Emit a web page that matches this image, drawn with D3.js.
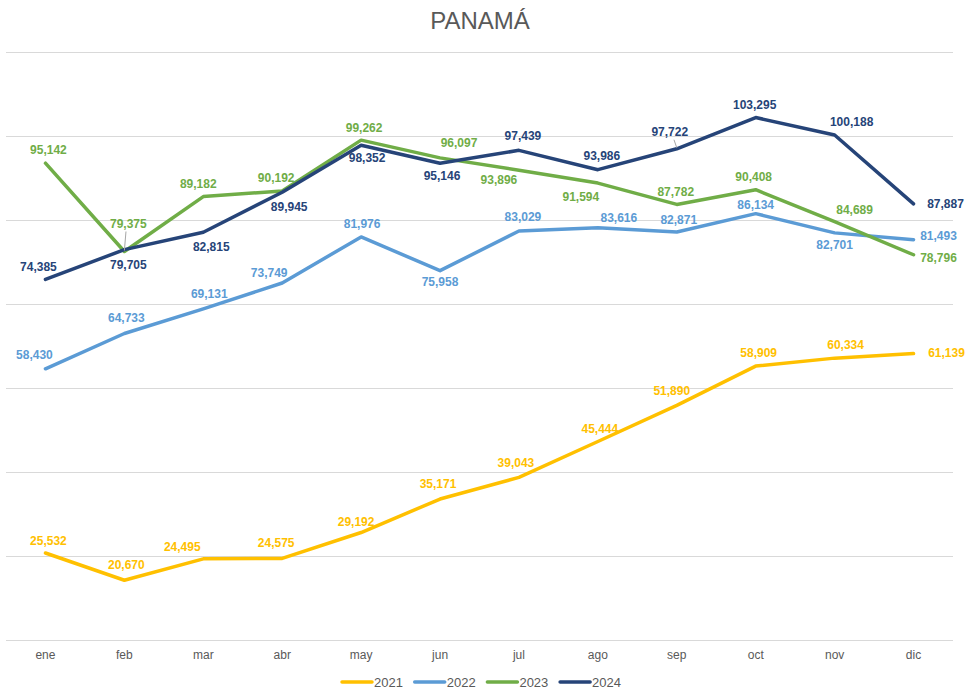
<!DOCTYPE html>
<html>
<head>
<meta charset="utf-8">
<script src="https://cdn.jsdelivr.net/npm/d3@7"></script>
<style>
  body { margin: 0; background: #fff; }
  svg { font-family: "Liberation Sans", Arial, sans-serif; }
</style>
</head>
<body>
<div id="plot"></div>
<script>
// chart data
const months = ["ene", "feb", "mar", "abr", "may", "jun", "jul", "ago", "sep", "oct", "nov", "dic"];
const years = ["2021", "2022", "2023", "2024"];
const v2021 = [25532, 20670, 24495, 24575, 29192, 35171, 39043, 45444, 51890, 58909, 60334, 61139];
const v2022 = [58430, 64733, 69131, 73749, 81976, 75958, 83029, 83616, 82871, 86134, 82701, 81493];
const v2023 = [95142, 79375, 89182, 90192, 99262, 96097, 93896, 91594, 87782, 90408, 84689, 78796];
const v2024 = [74385, 79705, 82815, 89945, 98352, 95146, 97439, 93986, 97722, 103295, 100188, 87887];
const yTicks = [10000, 25000, 40000, 55000, 70000, 85000, 100000, 115000];

// label placement (offset of label centre from point), like excel's manual label moves
const labelOffsets = {
  "2021": [[3,-12],[2,-15],[-21,-12],[-6,-15],[-5,-11],[-2,-15],[-3,-14],[2,-13],[-5,-14],[3,-13],[11,-13],[33,-1]],
  "2022": [[-11,-14],[2,-15],[6,-15],[-13,-10],[1,-13],[0,11],[4,-14],[21,-10],[2,-12],[0,-9],[0,12],[25,-4]],
  "2023": [[3,-13],[4,-28],[-5,-13],[-6,-13],[3,-12],[19,-15],[-20,10],[-17,14],[-1,-12],[-2,-13],[20,-12],[25,3]],
  "2024": [[-7,-12],[4,15],[8,15],[7,15],[6,13],[2,13],[4,-14],[4,-14],[-7,-17],[-1,-13],[17,-13],[32,0]]
};
const leaders = { "2023": [1], "2024": [8] };

const colors = { "2021": "#FFC000", "2022": "#5B9BD5", "2023": "#70AD47", "2024": "#264478" };
const seriesValues = { "2021": v2021, "2022": v2022, "2023": v2023, "2024": v2024 };

const width = 968, height = 691;
const margin = { left: 6, right: 15, top: 52, bottom: 51 };

const svg = d3.select("#plot").append("svg")
  .attr("width", width)
  .attr("height", height);

const x = d3.scaleBand()
  .domain(months)
  .range([margin.left, width - margin.right]);

const y = d3.scaleLinear()
  .domain([10000, 115000])
  .range([height - margin.bottom, margin.top]);

// title
svg.append("text")
  .attr("x", 480)
  .attr("y", 29)
  .attr("text-anchor", "middle")
  .style("font-size", "24px")
  .style("fill", "#595959")
  .text("PANAMÁ");

// gridlines
const grid = svg.append("g")
  .attr("transform", `translate(${margin.left},0)`)
  .call(d3.axisLeft(y).tickValues(yTicks).tickSize(-(width - margin.left - margin.right)).tickFormat(""));
grid.select(".domain").remove();
grid.selectAll("line").attr("stroke", "#d9d9d9").attr("stroke-width", 1);

// x axis labels
const xAxis = svg.append("g")
  .attr("transform", `translate(0,${height - margin.bottom})`)
  .call(d3.axisBottom(x).tickSize(0).tickPadding(10));
xAxis.select(".domain").remove();
xAxis.selectAll("text")
  .style("font-size", "12px")
  .style("fill", "#595959")
  .style("font-family", "'Liberation Sans', Arial, sans-serif");

const line = d3.line()
  .x((d, i) => x(months[i]) + x.bandwidth() / 2)
  .y(d => y(d));

years.forEach(yr => {
  const vals = seriesValues[yr];
  svg.append("path")
    .datum(vals)
    .attr("fill", "none")
    .attr("stroke", colors[yr])
    .attr("stroke-width", 3.5)
    .attr("stroke-linejoin", "round")
    .attr("stroke-linecap", "round")
    .attr("d", line);
});

// labels drawn after lines
years.forEach(yr => {
  const vals = seriesValues[yr];
  const offs = labelOffsets[yr];
  const g = svg.append("g");
  (leaders[yr] || []).forEach(i => {
    const px = x(months[i]) + x.bandwidth() / 2, py = y(vals[i]);
    const o = offs[i];
    g.append("line")
      .attr("x1", px + o[0] * 0.4).attr("y1", py + o[1] + 8)
      .attr("x2", px).attr("y2", py - 1)
      .attr("stroke", "#a6a6a6").attr("stroke-width", 1);
  });
  g.selectAll("text")
    .data(vals)
    .enter().append("text")
    .attr("x", (d, i) => x(months[i]) + x.bandwidth() / 2 + offs[i][0])
    .attr("y", (d, i) => y(d) + offs[i][1])
    .attr("text-anchor", "middle")
    .attr("dominant-baseline", "central")
    .style("font-size", "12px")
    .style("font-weight", "bold")
    .style("fill", colors[yr])
    .text(d => d3.format(",")(d));
});

// legend
const legend = svg.append("g").attr("transform", "translate(342,682)");
years.forEach((yr, i) => {
  const item = legend.append("g").attr("transform", `translate(${i * 72.7},0)`);
  item.append("line")
    .attr("x1", 0).attr("x2", 30)
    .attr("stroke", colors[yr])
    .attr("stroke-width", 3.5)
    .attr("stroke-linecap", "round");
  item.append("text")
    .attr("x", 32)
    .attr("dominant-baseline", "central")
    .style("font-size", "13px")
    .style("fill", "#595959")
    .text(yr);
});
</script>
</body>
</html>
